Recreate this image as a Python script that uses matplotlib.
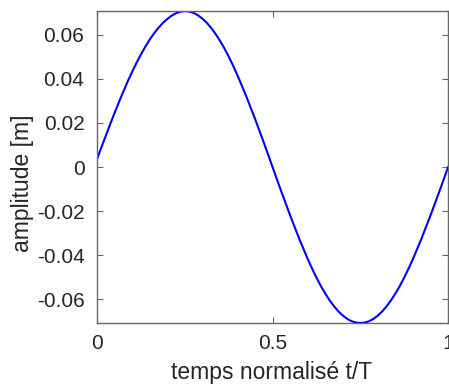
import matplotlib
matplotlib.use("Agg")
import matplotlib.pyplot as plt

t = [0.0, 0.0125, 0.025, 0.0375, 0.05, 0.0625, 0.075, 0.0875, 0.1, 0.1125, 0.125,
     0.1375, 0.15, 0.1625, 0.175, 0.1875, 0.2, 0.2125, 0.225, 0.2375, 0.25,
     0.2625, 0.275, 0.2875, 0.3, 0.3125, 0.325, 0.3375, 0.35, 0.3625, 0.375,
     0.3875, 0.4, 0.4125, 0.425, 0.4375, 0.45, 0.4625, 0.475, 0.4875, 0.5,
     0.5125, 0.525, 0.5375, 0.55, 0.5625, 0.575, 0.5875, 0.6, 0.6125, 0.625,
     0.6375, 0.65, 0.6625, 0.675, 0.6875, 0.7, 0.7125, 0.725, 0.7375, 0.75,
     0.7625, 0.775, 0.7875, 0.8, 0.8125, 0.825, 0.8375, 0.85, 0.8625, 0.875,
     0.8875, 0.9, 0.9125, 0.925, 0.9375, 0.95, 0.9625, 0.975, 0.9875, 1.0]
amplitude = [0.0035, 0.0089, 0.0141, 0.0194, 0.0245, 0.0294, 0.0342, 0.0388, 0.0431, 0.0472, 0.0510,
             0.0545, 0.0577, 0.0606, 0.0631, 0.0653, 0.0671, 0.0686, 0.0697, 0.0704, 0.0707,
             0.0705, 0.0699, 0.0688, 0.0673, 0.0654, 0.0631, 0.0604, 0.0573, 0.0539, 0.0501,
             0.0460, 0.0416, 0.0369, 0.0321, 0.0270, 0.0219, 0.0165, 0.0111, 0.0056, 0.0,
             -0.0056, -0.0111, -0.0165, -0.0219, -0.0270, -0.0321, -0.0369, -0.0416, -0.0460, -0.0501,
             -0.0539, -0.0573, -0.0604, -0.0631, -0.0654, -0.0673, -0.0688, -0.0699, -0.0705, -0.0707,
             -0.0705, -0.0699, -0.0688, -0.0673, -0.0654, -0.0631, -0.0604, -0.0573, -0.0539, -0.0501,
             -0.0460, -0.0416, -0.0369, -0.0321, -0.0270, -0.0219, -0.0165, -0.0111, -0.0056, 0.0]
yticks = [-0.06, -0.04, -0.02, 0, 0.02, 0.04, 0.06]
ytick_labels = ["-0.06", "-0.04", "-0.02", "0", "0.02", "0.04", "0.06"]
xticks = [0, 0.5, 1]
xtick_labels = ["0", "0.5", "1"]

plt.rcParams['font.family'] = ['Liberation Sans', 'DejaVu Sans']
fig = plt.figure(figsize=(4.49, 3.88), dpi=100)
ax = fig.add_axes([0.216, 0.1675, 0.782, 0.804])
ax.plot(t, amplitude, color=(0, 0, 1), lw=1.5)
ax.set_xlim(0, 1)
ax.set_ylim(-0.0707, 0.0707)
ax.set_yticks(yticks)
ax.set_yticklabels(ytick_labels)
ax.set_xticks(xticks)
ax.set_xticklabels(xtick_labels)
tc = (0.15, 0.15, 0.15)
for s in ax.spines.values():
    s.set_color((0.4, 0.4, 0.4))
    s.set_linewidth(1.0)
ax.tick_params(direction='in', top=True, right=True, length=4, width=0.8,
               colors=(0.4, 0.4, 0.4), labelcolor=tc, labelsize=15)
ax.tick_params(axis='y', pad=9)
ax.tick_params(axis='x', pad=8)
ax.set_xlabel("temps normalisé t/T", fontsize=16.5, color=tc)
ax.set_ylabel("amplitude [m]", fontsize=16.5, color=tc)
ax.xaxis.set_label_coords(272 / 449, 1 - 372 / 388, transform=fig.transFigure)
ax.yaxis.set_label_coords(22 / 449, 1 - 183 / 388, transform=fig.transFigure)
ax.xaxis.label.set_va('center')
ax.yaxis.label.set_va('center')
fig.savefig("out.png", dpi=100)
